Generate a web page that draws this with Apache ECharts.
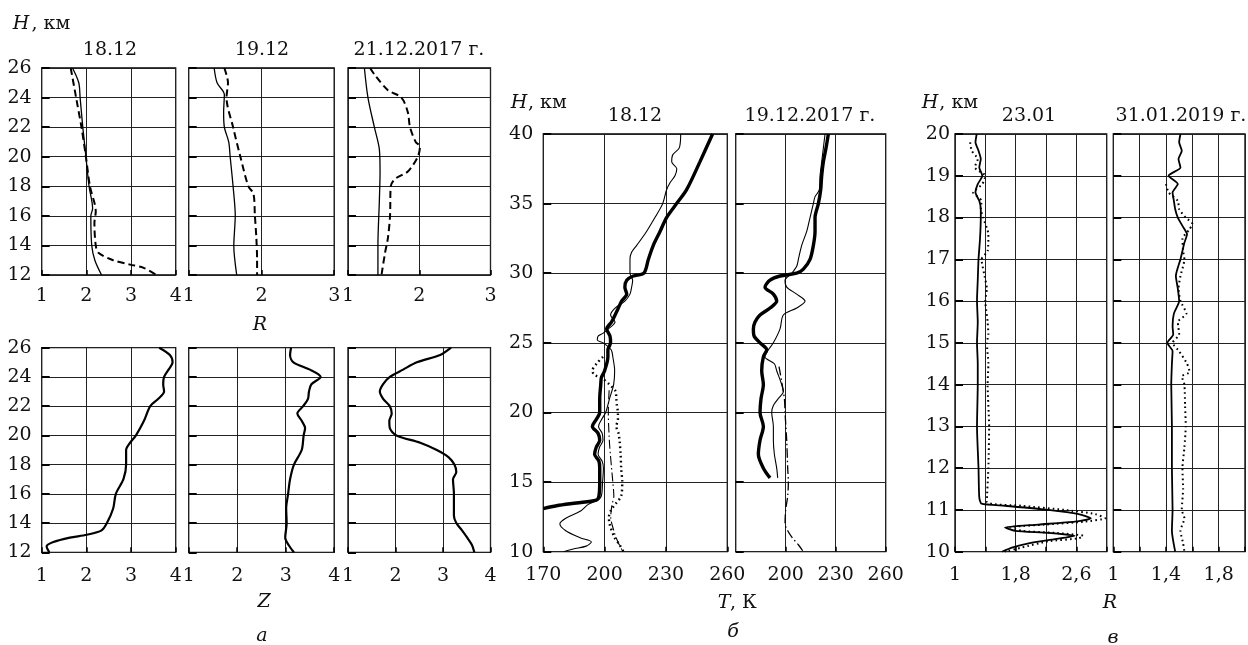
<!DOCTYPE html>
<html><head><meta charset="utf-8">
<script src="https://cdn.jsdelivr.net/npm/echarts@6/dist/echarts.min.js"></script>
<style>html,body{margin:0;padding:0;background:#fff}#c{width:1248px;height:645px}</style>
</head><body><div id="c"></div>
<script>
// ---------- DATA (value, H) ----------
// Panel a, top row: R
const a1812_R_solid = [[1.69,26],[1.83,25],[1.86,24],[1.92,22],[1.99,20],[2.06,18],[2.14,16.5],[2.10,16],[2.12,14],[2.19,13],[2.34,12]];
const a1812_R_dash  = [[1.65,26],[1.77,24],[1.89,22],[1.99,20],[2.08,18],[2.21,16.3],[2.18,15.5],[2.21,14],[2.27,13.5],[2.6,13],[2.98,12.7],[3.27,12.5],[3.57,12]];
const a1912_R_solid = [[1.35,26],[1.39,25],[1.49,24.2],[1.48,23],[1.49,22],[1.55,21],[1.57,20],[1.61,18],[1.64,16],[1.63,15],[1.62,14],[1.66,12]];
const a1912_R_dash  = [[1.49,26],[1.54,25],[1.52,24],[1.61,22],[1.71,20],[1.82,18],[1.89,17.5],[1.91,16],[1.93,14.5],[1.94,13],[1.94,12]];
const a2112_R_solid = [[1.23,26],[1.28,24],[1.37,22],[1.44,20.5],[1.45,19],[1.44,17],[1.42,14],[1.42,12]];
const a2112_R_dash  = [[1.31,26],[1.38,25.5],[1.56,24.5],[1.75,24],[1.84,23],[1.87,22],[1.95,21],[2.01,20.7],[1.98,20],[1.84,19],[1.66,18.5],[1.60,18],[1.59,16],[1.56,14.5],[1.52,13.5],[1.47,12]];
// Panel a, bottom row: Z
const a1812_Z = [[3.63,26],[3.87,25.5],[3.93,25],[3.84,24.5],[3.74,24],[3.72,23.5],[3.74,23],[3.61,22.5],[3.43,22],[3.29,21],[3.11,20],[2.98,19.5],[2.89,19],[2.89,18],[2.83,17],[2.66,16],[2.60,15],[2.46,14],[2.34,13.5],[2.01,13.2],[1.63,13],[1.26,12.7],[1.11,12.4],[1.17,12]];
const a1912_Z = [[3.11,26],[3.09,25.5],[3.16,25],[3.50,24.5],[3.72,24],[3.53,23.5],[3.48,23],[3.46,22.5],[3.36,22],[3.24,21.5],[3.33,21],[3.40,20.5],[3.37,20],[3.33,19],[3.17,18],[3.09,17],[3.05,16],[3.01,15],[3.02,14],[2.99,13],[3.06,12.5],[3.17,12]];
const a2112_Z = [[3.17,26],[2.94,25.5],[2.45,25],[2.16,24.5],[1.88,24],[1.74,23.5],[1.67,23],[1.74,22.5],[1.88,22],[1.92,21.5],[1.87,21],[1.88,20.5],[2.02,20],[2.52,19.5],[2.87,19],[3.12,18.5],[3.24,18],[3.28,17.5],[3.21,17],[3.23,16],[3.23,15],[3.23,14.5],[3.28,14],[3.40,13.5],[3.51,13],[3.61,12.5],[3.66,12]];
// Panel б: T, K
const b1812_thick = [[252.8,40],[246.6,38],[240.1,36],[235.2,35],[230.3,34],[227.1,33],[223.8,32],[221.4,31],[219.2,30],[214,29.8],[210.8,29.5],[209.9,29],[210.8,28.5],[208.3,28],[206.7,27.5],[205.1,27],[203.4,26.5],[201,26],[202.6,25.5],[202.9,25],[201.6,24.5],[201.6,24],[200,23],[198.4,22.5],[198.1,22],[197.6,21],[197.6,20],[195.9,19.5],[194,19],[196.8,18.5],[197.6,18],[195.9,17.5],[195.1,17],[197.2,16.5],[197.6,16],[197.6,15],[197.2,14],[195.9,13.7],[186.2,13.5],[176.5,13.3],[170,13.1]];
const b1812_thin = [[237.2,40],[236.5,39],[233.3,38.5],[232.8,38],[235.3,37.5],[234.4,37],[232,36.5],[230.3,36],[228.4,35],[224.6,34],[220.5,33],[215.7,32],[213.2,31.5],[212.4,31],[212.4,30.5],[212.4,30],[213.7,29.5],[213.2,29],[212.4,28.5],[209.9,28],[205.1,27.5],[202.9,27],[205.1,26.5],[201.8,26],[199.3,25.7],[196.9,25.5],[196.4,25.2],[199.3,25],[203.2,24.5],[204,24],[204.9,23],[204.4,22],[202.4,21],[200.5,20],[198.5,19.5],[197,19],[198.8,18.5],[199.2,18],[197.5,17.5],[196.8,17],[198.8,16.5],[199.4,16],[199,15],[198.4,14],[196.5,13.7],[192,13.4],[188,12.9],[181,12.4],[178.1,12],[181,11.5],[188,11],[193.5,10.7],[191,10.4],[184.6,10.2],[180,10]];
const b1812_dot = [[199.2,24],[196,23.5],[194,23],[195,22.7],[198.4,22.5],[202.4,22],[205.4,21.5],[205.7,21],[206,20.5],[206.5,20],[206.5,19.5],[205.7,19],[206.8,18.5],[207.3,18],[207.8,17],[208.1,16],[208.6,15],[208.1,14],[205.7,13.5],[203.2,13],[202.1,12.5],[202.4,12],[204.9,11],[207.3,10.5],[209.2,10]];
const b1812_dashdot = [[202.2,21.6],[201.8,20],[202.3,18],[202.8,17],[203.4,16],[204,15],[204.5,14],[203.5,13.3],[203,12.5],[204.5,11.5],[206.5,10.7],[209,10]];
const b1912_thick = [[225.6,40],[224.2,39],[222.6,38],[221.6,37],[221,36],[219.6,35],[217.6,34],[217.6,33],[216.6,32],[214.6,31],[210.6,30.3],[206.6,30],[196.6,29.8],[190.6,29.5],[187.6,29],[192.6,28.5],[194.6,28],[190.6,27.5],[184.6,27],[181.6,26.5],[180.6,26],[181,25.5],[184.6,25],[188.6,24.5],[186.6,24],[185.6,23],[186.6,22],[185.2,21],[184.6,20],[186.6,19],[184.6,18],[183.6,17],[186.6,16],[190.6,15.3]];
const b1912_thin = [[223.6,40],[221.6,38],[220.6,37],[220.2,36],[217.6,35.5],[216.6,35],[214.6,34],[212.6,33],[209.6,32],[207.6,31],[206.6,30.5],[203.6,30],[199.6,29.5],[200.6,29],[206.6,28.5],[211.6,28],[206.6,27.5],[198.6,27],[196.6,26],[192.6,25],[189.6,24.5],[187.5,24],[193.2,23.5],[194.6,23],[197.6,22],[198.6,21.5],[195.6,21],[192.6,20.5],[191.6,20],[192.6,19],[192.6,18],[193.2,17],[194.6,16],[195.2,15.3]];
const b1912_dashdot = [[196,23.3],[199.2,21],[199.6,20],[200.6,18],[201.2,16],[201.6,15],[201.2,14],[200,13],[199.6,12],[201.2,11.5],[204,11],[207.6,10.5],[210.6,10]];
// Panel в: R
const c2301_solid = [[1.286,20],[1.27,19.8],[1.31,19.6],[1.34,19.4],[1.32,19.2],[1.36,19],[1.30,18.8],[1.27,18.6],[1.32,18.4],[1.34,18.2],[1.34,18],[1.33,17.5],[1.31,17],[1.30,16.5],[1.29,16],[1.30,15.5],[1.29,15],[1.30,14.5],[1.30,14],[1.29,13],[1.31,12],[1.32,11.3],[1.35,11.15],[1.66,11.1],[2.23,11.0],[2.63,10.9],[2.79,10.8],[2.58,10.72],[2.10,10.65],[1.66,10.58],[1.79,10.5],[2.23,10.45],[2.58,10.38],[2.32,10.3],[1.97,10.2],[1.75,10.1],[1.62,10]];
const c2301_dot = [[1.20,19.8],[1.22,19.6],[1.30,19.4],[1.26,19.2],[1.40,19],[1.36,18.8],[1.24,18.6],[1.35,18.4],[1.34,18.2],[1.37,18],[1.44,17.6],[1.43,17.2],[1.35,17],[1.39,16.6],[1.42,16.3],[1.40,16],[1.43,15.5],[1.44,15.2],[1.42,15],[1.44,14.5],[1.43,14],[1.45,13],[1.44,12],[1.42,11.2],[1.88,11.1],[2.45,11.0],[2.85,10.9],[2.98,10.8],[2.71,10.72],[2.19,10.65],[1.73,10.58],[1.88,10.5],[2.32,10.45],[2.69,10.38],[2.63,10.32],[2.23,10.25],[1.88,10.1],[1.66,10]];
const c3101_solid = [[1.51,20],[1.50,19.8],[1.52,19.6],[1.495,19.4],[1.51,19.2],[1.42,19],[1.49,18.8],[1.45,18.6],[1.46,18.4],[1.47,18.2],[1.49,18],[1.525,17.8],[1.56,17.6],[1.54,17.4],[1.525,17.2],[1.51,17],[1.475,16.6],[1.49,16.3],[1.50,16],[1.46,15.7],[1.45,15.4],[1.455,15.2],[1.41,15],[1.45,14.8],[1.445,14.5],[1.44,14],[1.445,13],[1.445,12],[1.45,11],[1.445,10.5],[1.47,10]];
const c3101_dot = [[1.40,18.8],[1.42,18.6],[1.49,18.4],[1.50,18.2],[1.55,18],[1.60,17.85],[1.575,17.7],[1.525,17.5],[1.53,17.2],[1.54,17],[1.51,16.6],[1.495,16.3],[1.51,16],[1.555,15.7],[1.49,15.5],[1.50,15.2],[1.45,15],[1.50,14.8],[1.56,14.5],[1.58,14.3],[1.52,14.2],[1.54,14],[1.545,13.5],[1.55,13],[1.54,12.5],[1.525,12],[1.53,11.5],[1.52,11],[1.54,10.8],[1.51,10.5],[1.53,10.2],[1.54,10]];

// Tick/axis settings
const aTopX = [[1,4,1],[1,3,1],[1,3,1]];
const aBotX = [[1,4,1],[1,4,1],[1,4,1]];
const aY = [12,26,2];
const bX = [170,260,30];
const bY = [10,40,5];
const cX = [[1,3,0.4],[1,2,0.2]];
const cY = [10,20,1];

// ---------- LAYOUT ----------
const FONT = '"DejaVu Serif"';
const FS = 19;
const grids = [
  {left:41.7, top:68, width:134, height:207},
  {left:188.7, top:68, width:145.5, height:207},
  {left:348, top:68, width:142.5, height:207},
  {left:41.7, top:347.7, width:134, height:204.6},
  {left:188.7, top:347.7, width:145.5, height:204.6},
  {left:348, top:347.7, width:142.5, height:204.6},
  {left:543.3, top:134, width:184, height:417.7},
  {left:735.7, top:134, width:150, height:417.7},
  {left:955, top:134, width:151.7, height:417.7},
  {left:1113.3, top:134, width:133.2, height:417.7}
].map(g => Object.assign({show:true, borderColor:'#000', borderWidth:1.3, backgroundColor:'transparent'}, g));

const gridLine = {show:true, lineStyle:{color:'#222', width:1}};
function fmt(v){ return String(Math.round(v*10)/10).replace('.', ','); }
function xA(gi, r, o){
  o = o || {};
  return {type:'value', gridIndex:gi, min:r[0], max:r[1], interval:r[2],
    axisLine:{show:false}, splitLine:gridLine,
    axisTick:{show:true, inside:true, length:5, lineStyle:{color:'#000', width:1.5}},
    axisLabel:{show:true, margin:o.margin||13, fontFamily:FONT, fontSize:FS, color:'#111',
      showMinLabel:o.showMin!==false, showMaxLabel:true, hideOverlap:false,
      formatter:o.formatter||fmt}};
}
function yA(gi, r, showLabel, margin){
  return {type:'value', gridIndex:gi, min:r[0], max:r[1], interval:r[2],
    axisLine:{show:false}, splitLine:gridLine,
    axisTick:{show:true, inside:true, length:8, lineStyle:{color:'#000', width:2}},
    axisLabel:{show:showLabel, margin:margin||10, fontFamily:FONT, fontSize:FS, color:'#111', showMinLabel:true, showMaxLabel:true}};
}
const xAxes = [
  xA(0,aTopX[0],{margin:12}), xA(1,aTopX[1],{margin:12}), xA(2,aTopX[2],{margin:12}),
  xA(3,aBotX[0],{margin:14}), xA(4,aBotX[1],{margin:14}), xA(5,aBotX[2],{margin:14}),
  xA(6,bX,{margin:14}), xA(7,bX,{margin:14, showMin:false}),
  xA(8,cX[0],{margin:14, formatter:v=>{const k=(v-1)/0.8; return (Math.abs(k-Math.round(k))<1e-6 && v<2.95)?fmt(v):'';}}),
  xA(9,cX[1],{margin:14, formatter:v=>{const k=(v-1)/0.4; return (Math.abs(k-Math.round(k))<1e-6 && v<1.95)?fmt(v):'';}})
];
const yAxes = [
  yA(0,aY,true), yA(1,aY,false), yA(2,aY,false),
  yA(3,aY,true), yA(4,aY,false), yA(5,aY,false),
  yA(6,bY,true), yA(7,bY,false),
  yA(8,cY,true,5), yA(9,cY,false)
];

function S(gi, data, width, type, smooth){
  return {type:'line', xAxisIndex:gi, yAxisIndex:gi, data:data, showSymbol:false, symbol:'none',
    smooth:smooth===undefined?0.3:smooth, clip:true, silent:true,
    lineStyle:{color:'#000', width:width, type:type||'solid'}};
}
const DASH = [7,4];
const DOT = [1.6,3.2];
const DASHDOT = [9,3,1.5,3];
const series = [
  S(0,a1812_R_solid,1.3), S(0,a1812_R_dash,2,DASH),
  S(1,a1912_R_solid,1.3), S(1,a1912_R_dash,2,DASH),
  S(2,a2112_R_solid,1.3), S(2,a2112_R_dash,2,DASH),
  S(3,a1812_Z,2.2), S(4,a1912_Z,2.2), S(5,a2112_Z,2.2),
  S(6,b1812_thin,1.1), S(6,b1812_dot,2.4,DOT), S(6,b1812_dashdot,1.1,DASHDOT), S(6,b1812_thick,3.4),
  S(7,b1912_thin,1.1), S(7,b1912_dashdot,1.3,DASHDOT), S(7,b1912_thick,3.4),
  S(8,c2301_dot,2,DOT,0.2), S(8,c2301_solid,1.8,'solid',0.2),
  S(9,c3101_dot,2,DOT,0.2), S(9,c3101_solid,1.8,'solid',0.2)
];

function T(text, x, y, opt){
  opt = opt || {};
  const font = (opt.italic?'italic ':'') + (opt.size||FS) + 'px ' + FONT;
  const al = opt.align || 'center';
  return {type:'text', x:x, y:y, silent:true,
    style:{text:text, font:font, fill:'#111', align:al, textAlign:al, verticalAlign:'middle', textVerticalAlign:'middle'}};
}
const texts = [
  // panel a
  T('H',12.7,24,{italic:true,align:'left'}), T(', км',31.5,24,{align:'left'}),
  T('18.12',110,50), T('19.12',262,50), T('21.12.2017 г.',419,50),
  T('R',260,325,{italic:true}), T('Z',264,602,{italic:true}), T('а',262,636,{italic:true}),
  // panel б
  T('H',510.7,102.7,{italic:true,align:'left'}), T(', км',528,102.7,{align:'left'}),
  T('18.12',635,116), T('19.12.2017 г.',810,116),
  T('T',717.7,603,{italic:true,align:'left'}), T(', К',730,603,{align:'left'}),
  T('б',733,632,{italic:true}),
  // panel в
  T('H',921.7,102.7,{italic:true,align:'left'}), T(', км',939.3,102.7,{align:'left'}),
  T('23.01',1029,116), T('31.01.2019 г.',1181,116),
  T('R',1110,603,{italic:true}), T('в',1113,638,{italic:true})
];

const chart = echarts.init(document.getElementById('c'), null, {renderer:'canvas'});
chart.setOption({
  animation:false,
  backgroundColor:'#fff',
  grid:grids, xAxis:xAxes, yAxis:yAxes, series:series,
  graphic:{elements:texts}
});
</script></body></html>
